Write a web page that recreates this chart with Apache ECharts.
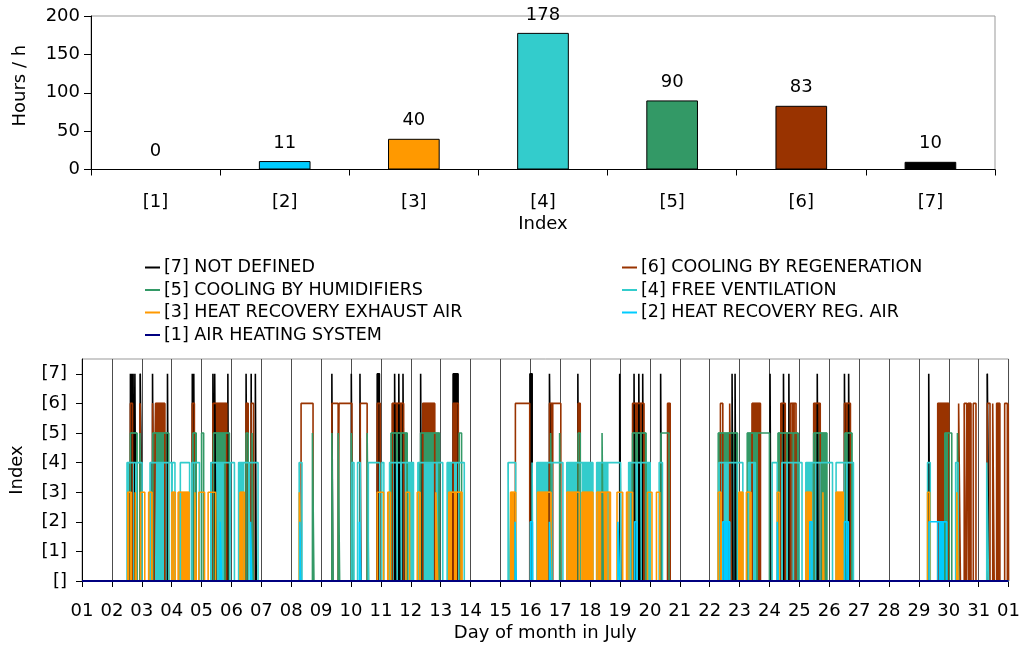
<!DOCTYPE html>
<html>
<head>
<meta charset="utf-8">
<script src="https://cdn.jsdelivr.net/npm/echarts@6/dist/echarts.min.js"></script>
<style>
  html, body { margin: 0; padding: 0; background: #ffffff; }
  #chart { width: 1023px; height: 650px; }
</style>
</head>
<body>
<div id="chart"></div>
<script>
// ---- Operating hours per mode (upper chart) ----
const modeCodes = ['[1]', '[2]', '[3]', '[4]', '[5]', '[6]', '[7]'];
const modeHours = [0, 11, 40, 178, 90, 83, 10];
const modeNames = [
  '[1] AIR HEATING SYSTEM',
  '[2] HEAT RECOVERY REG. AIR',
  '[3] HEAT RECOVERY EXHAUST AIR',
  '[4] FREE VENTILATION',
  '[5] COOLING BY HUMIDIFIERS',
  '[6] COOLING BY REGENERATION',
  '[7] NOT DEFINED'
];

// ---- Axis tick labels (lower chart) ----
const indexLabels = ['[]', '[1]', '[2]', '[3]', '[4]', '[5]', '[6]', '[7]'];
const dayLabels = ['01', '02', '03', '04', '05', '06', '07', '08', '09', '10', '11', '12', '13', '14', '15', '16',
  '17', '18', '19', '20', '21', '22', '23', '24', '25', '26', '27', '28', '29', '30', '31', '01'];

// ---- Active periods per mode, [start, end] in days of July (1.0 = 1st, 00:00) ----
// "Runs" are the periods the mode is on; "Dense" marks stretches of rapid on/off switching.
const mode7Runs = [[2.62, 2.64], [2.66, 2.68], [2.71, 2.73], [2.77, 2.80], [2.95, 3.01], [3.36, 3.39], [3.86, 3.89],
  [4.69, 4.71], [4.74, 4.77], [5.38, 5.41], [5.44, 5.48], [5.88, 5.90], [6.49, 6.52], [6.66, 6.68], [6.80, 6.83],
  [9.36, 9.39], [10.01, 10.05], [10.30, 10.33], [10.88, 10.95], [11.46, 11.49], [11.60, 11.63], [11.74, 11.77],
  [12.33, 12.36], [13.42, 13.58], [15.99, 16.06], [16.64, 16.70],
  [17.59, 17.62], [18.99, 19.03], [19.47, 19.50], [19.63, 19.66], [19.76, 19.79], [20.36, 20.39],
  [22.75, 22.78], [22.85, 22.88], [24.02, 24.05], [24.47, 24.50], [24.65, 24.68], [25.60, 25.63], [26.51, 26.54], [26.65, 26.69],
  [29.33, 29.36], [31.29, 31.34]];
const mode7Dense = [[2.95, 3.01], [10.88, 10.95], [13.42, 13.58], [15.99, 16.06], [31.29, 31.34]];

const mode6Runs = [[2.62, 2.69], [2.94, 3.00], [3.36, 3.41], [3.46, 3.77], [4.69, 4.76], [5.38, 5.84], [6.49, 6.56], [6.66, 6.74],
  [8.33, 8.73], [9.36, 9.57], [9.60, 10.03], [10.31, 10.54], [10.88, 10.98], [11.38, 11.76],
  [12.40, 12.80], [13.42, 13.59], [15.50, 15.98], [16.64, 17.02],
  [17.60, 17.67], [19.42, 19.80], [20.59, 20.68],
  [22.36, 22.44], [22.67, 22.73], [23.42, 23.70], [24.38, 24.53], [24.70, 24.89], [25.48, 25.70], [26.51, 26.71],
  [29.63, 30.00], [30.33, 30.39], [30.52, 30.60], [30.64, 30.74], [30.82, 30.91], [31.29, 31.38], [31.47, 31.52],
  [31.60, 31.71], [31.87, 31.96], [31.99, 32.00]];
const mode6Dense = [[2.62, 2.69], [2.94, 3.00], [3.36, 3.41], [3.46, 3.77], [4.69, 4.76], [5.38, 5.84], [6.49, 6.56],
  [10.88, 10.98], [11.38, 11.76], [12.40, 12.80], [13.42, 13.59], [16.64, 16.76], [17.60, 17.67], [19.42, 19.80],
  [20.59, 20.68], [23.42, 23.70], [24.38, 24.53], [24.75, 24.85], [25.48, 25.70], [26.51, 26.71],
  [29.63, 30.00], [30.52, 30.58], [30.66, 30.74], [31.60, 31.70]];

const mode5Runs = [[2.62, 2.84], [2.94, 3.00], [3.37, 3.90], [4.71, 4.82], [5.00, 5.07], [5.40, 5.93], [6.49, 6.56], [6.69, 6.73],
  [8.71, 8.76], [9.36, 9.40], [9.57, 9.62], [10.01, 10.07], [10.54, 10.59], [11.34, 11.88],
  [12.33, 12.96], [13.62, 13.70], [16.68, 16.73], [16.98, 17.02],
  [17.60, 17.67], [18.40, 18.44], [19.42, 19.87], [20.37, 20.64],
  [22.29, 22.93], [23.26, 24.00], [24.29, 24.96], [25.48, 25.92], [26.53, 26.76],
  [29.87, 30.10], [30.29, 30.33]];
const mode5Dense = [[2.62, 2.84], [3.37, 3.90], [4.71, 4.82], [5.40, 5.93], [11.34, 11.88], [12.33, 12.96],
  [19.42, 19.87], [22.29, 22.93], [23.26, 23.60], [24.29, 24.96], [25.48, 25.92], [26.53, 26.76], [29.87, 30.02]];

const mode4Runs = [[2.51, 2.80], [2.82, 3.01], [3.28, 4.00], [4.02, 4.11], [4.29, 4.60], [4.68, 4.93], [5.31, 5.95], [5.97, 6.10],
  [6.24, 6.58], [6.60, 6.89],
  [8.27, 8.36], [10.03, 10.10], [10.22, 10.31], [10.58, 10.96], [11.03, 11.10], [11.29, 12.09],
  [12.24, 13.07], [13.22, 13.79], [15.26, 15.51], [16.06, 16.08], [16.22, 17.09],
  [17.22, 18.09], [18.22, 19.02], [19.29, 20.01], [20.31, 20.42],
  [22.31, 23.11], [23.30, 23.53], [24.09, 24.26], [24.42, 25.09], [25.22, 26.11], [26.23, 26.81],
  [29.29, 29.38], [30.23, 30.31], [31.27, 31.33]];
const mode4Dense = [[2.51, 2.72], [3.28, 3.90], [4.68, 4.76], [5.31, 5.73], [6.24, 6.42], [8.27, 8.33], [11.29, 12.09],
  [12.24, 12.90], [13.22, 13.60], [15.26, 15.31], [16.22, 16.73], [17.22, 17.66], [17.73, 18.09], [18.22, 18.60],
  [19.29, 20.01], [22.31, 22.93], [23.30, 23.50], [24.42, 25.00], [25.22, 25.70], [26.50, 26.81]];

const mode3Runs = [[2.53, 2.65], [2.78, 2.81], [2.96, 3.10], [3.23, 3.34], [4.01, 4.12], [4.22, 4.58], [4.78, 4.82], [4.91, 5.10],
  [5.22, 5.47], [6.29, 6.43],
  [8.27, 8.33], [10.88, 11.09], [11.23, 11.32], [11.84, 11.96],
  [12.22, 12.31], [12.84, 12.90], [13.27, 13.71], [15.34, 15.51], [16.24, 16.69],
  [17.22, 17.64], [17.73, 18.09], [18.22, 18.68], [18.90, 19.09], [19.22, 19.42], [19.92, 20.07], [20.22, 20.33],
  [22.29, 22.38], [22.98, 23.11], [23.23, 23.38], [24.26, 24.33], [25.22, 25.40], [25.79, 25.82], [26.23, 26.47],
  [29.29, 29.36], [30.27, 30.31]];
const mode3Dense = [[2.53, 2.62], [3.23, 3.34], [4.01, 4.12], [4.22, 4.58], [6.29, 6.43], [11.23, 11.32], [12.22, 12.31],
  [13.27, 13.71], [15.34, 15.50], [16.24, 16.69], [17.22, 17.64], [17.73, 18.09], [18.22, 18.68], [19.22, 19.30],
  [22.29, 22.38], [22.98, 23.11], [23.23, 23.38], [25.22, 25.40], [26.23, 26.47]];

const mode2Runs = [[5.62, 5.67], [6.64, 6.68], [8.29, 8.33], [10.28, 10.33], [15.49, 15.53], [16.00, 16.07], [16.64, 16.69],
  [18.93, 18.99], [19.49, 19.56], [22.44, 22.67], [24.26, 24.29], [25.35, 25.42], [26.51, 26.64], [29.34, 29.93]];
const mode2Dense = [[22.44, 22.67], [25.35, 25.42], [26.51, 26.64], [29.62, 29.93]];

const mode1Runs = [];
const mode1Dense = [];

const monthStart = 1;
const monthEnd = 32;

// ---- Styling ----
const FONT = 'DejaVu Sans';
const modeColors = ['#000080', '#00CCFF', '#FF9900', '#33CCCC', '#339966', '#993300', '#000000'];

const runsByMode = [mode1Runs, mode2Runs, mode3Runs, mode4Runs, mode5Runs, mode6Runs, mode7Runs];
const denseByMode = [mode1Dense, mode2Dense, mode3Dense, mode4Dense, mode5Dense, mode6Dense, mode7Dense];

// Turns on-periods into a rectangular pulse train at the given index level
function pulseTrain(periods, level) {
  const pts = [[monthStart, 0]];
  periods.forEach(([s, e]) => {
    pts.push([s, 0], [s, level], [e, level], [e, 0]);
  });
  pts.push([monthEnd, 0]);
  return pts;
}

// Highest index first, so lower indices paint over higher ones
const timelineSeries = [];
for (let k = 7; k >= 1; k--) {
  const color = modeColors[k - 1];
  const name = modeNames[k - 1];
  if (denseByMode[k - 1].length) {
    timelineSeries.push({
      type: 'line', name: name, xAxisIndex: 1, yAxisIndex: 1,
      data: pulseTrain(denseByMode[k - 1], k),
      showSymbol: false, silent: true,
      color: color,
      lineStyle: { color: color, width: 1 },
      areaStyle: { color: color, opacity: 1 }
    });
  }
  timelineSeries.push({
    type: 'line', name: name, xAxisIndex: 1, yAxisIndex: 1,
    data: pulseTrain(runsByMode[k - 1], k),
    showSymbol: false, silent: true,
    color: color,
    lineStyle: { color: color, width: k === 1 ? 2 : 1.6 }
  });
}

const chart = echarts.init(document.getElementById('chart'), null, { renderer: 'canvas' });

const textStyleBase = { fontFamily: FONT, color: '#000' };
const LABEL_SIZE = 18;
const legendText = { fontFamily: FONT, fontSize: 17.5, color: '#000', lineHeight: 19, padding: [0, 0, 0, -1] };

const option = {
  animation: false,
  backgroundColor: '#ffffff',
  textStyle: { fontFamily: FONT },
  grid: [
    { left: 91, right: 28, top: 16, height: 153.5, show: true, borderColor: '#999999', borderWidth: 1, backgroundColor: 'transparent' },
    { left: 82, right: 11, top: 359, height: 222, show: true, borderColor: '#999999', borderWidth: 1, backgroundColor: 'transparent' }
  ],
  legend: [
    {
      data: [modeNames[6], modeNames[4], modeNames[2], modeNames[0]],
      orient: 'vertical', left: 145, top: 258, itemGap: 3.5, padding: 0,
      icon: 'rect', itemWidth: 15, itemHeight: 2, selectedMode: false,
      textStyle: legendText
    },
    {
      data: [modeNames[5], modeNames[3], modeNames[1]],
      orient: 'vertical', left: 622, top: 258, itemGap: 3.5, padding: 0,
      icon: 'rect', itemWidth: 15, itemHeight: 2, selectedMode: false,
      textStyle: legendText
    }
  ],
  xAxis: [
    {
      gridIndex: 0, type: 'category', data: modeCodes,
      name: 'Index', nameLocation: 'middle', nameGap: 46,
      nameTextStyle: Object.assign({ fontSize: LABEL_SIZE }, textStyleBase),
      axisLine: { lineStyle: { color: '#000', width: 1 } },
      axisTick: { show: true, length: 6, lineStyle: { color: '#000' } },
      axisLabel: Object.assign({ fontSize: LABEL_SIZE, margin: 24 }, textStyleBase),
      splitLine: { show: false }
    },
    {
      gridIndex: 1, type: 'value', min: monthStart, max: monthEnd, interval: 1,
      name: 'Day of month in July', nameLocation: 'middle', nameGap: 43,
      nameTextStyle: Object.assign({ fontSize: LABEL_SIZE }, textStyleBase),
      axisLine: { lineStyle: { color: '#000', width: 1 } },
      axisTick: { show: true, length: 6, lineStyle: { color: '#000' } },
      axisLabel: Object.assign({
        fontSize: LABEL_SIZE, margin: 21, showMinLabel: true, showMaxLabel: true,
        formatter: v => dayLabels[Math.round(v) - monthStart] || ''
      }, textStyleBase),
      splitLine: { show: true, lineStyle: { color: '#4d4d4d', width: 1 } }
    }
  ],
  yAxis: [
    {
      gridIndex: 0, type: 'value', min: 0, max: 200, interval: 50,
      name: 'Hours / h', nameLocation: 'middle', nameGap: 62, nameRotate: 90,
      nameTextStyle: Object.assign({ fontSize: LABEL_SIZE, padding: [0, 0, 0, 14] }, textStyleBase),
      axisLine: { show: true, lineStyle: { color: '#000', width: 1 } },
      axisTick: { show: true, length: 7, lineStyle: { color: '#000' } },
      axisLabel: Object.assign({ fontSize: LABEL_SIZE, margin: 11 }, textStyleBase),
      splitLine: { show: false }
    },
    {
      gridIndex: 1, type: 'value', min: 0, max: 7.5, interval: 1,
      name: 'Index', nameLocation: 'middle', nameGap: 56, nameRotate: 90,
      nameTextStyle: Object.assign({ fontSize: LABEL_SIZE }, textStyleBase),
      axisLine: { show: true, lineStyle: { color: '#000', width: 1 } },
      axisTick: { show: true, length: 6, lineStyle: { color: '#000' }, customValues: [0, 1, 2, 3, 4, 5, 6, 7] },
      axisLabel: Object.assign({
        fontSize: LABEL_SIZE, margin: 15,
        customValues: [0, 1, 2, 3, 4, 5, 6, 7],
        formatter: v => (Number.isInteger(v) ? indexLabels[v] : '')
      }, textStyleBase),
      splitLine: { show: false }
    }
  ],
  series: [
    {
      type: 'bar', xAxisIndex: 0, yAxisIndex: 0,
      barWidth: '40%',
      data: modeHours.map((v, i) => ({
        value: v,
        itemStyle: { color: modeColors[i], borderColor: '#000', borderWidth: 1 }
      })),
      label: {
        show: true, position: 'top', distance: 9,
        fontFamily: FONT, fontSize: LABEL_SIZE, color: '#000'
      },
      silent: true
    }
  ].concat(timelineSeries)
};

chart.setOption(option);
</script>
</body>
</html>
